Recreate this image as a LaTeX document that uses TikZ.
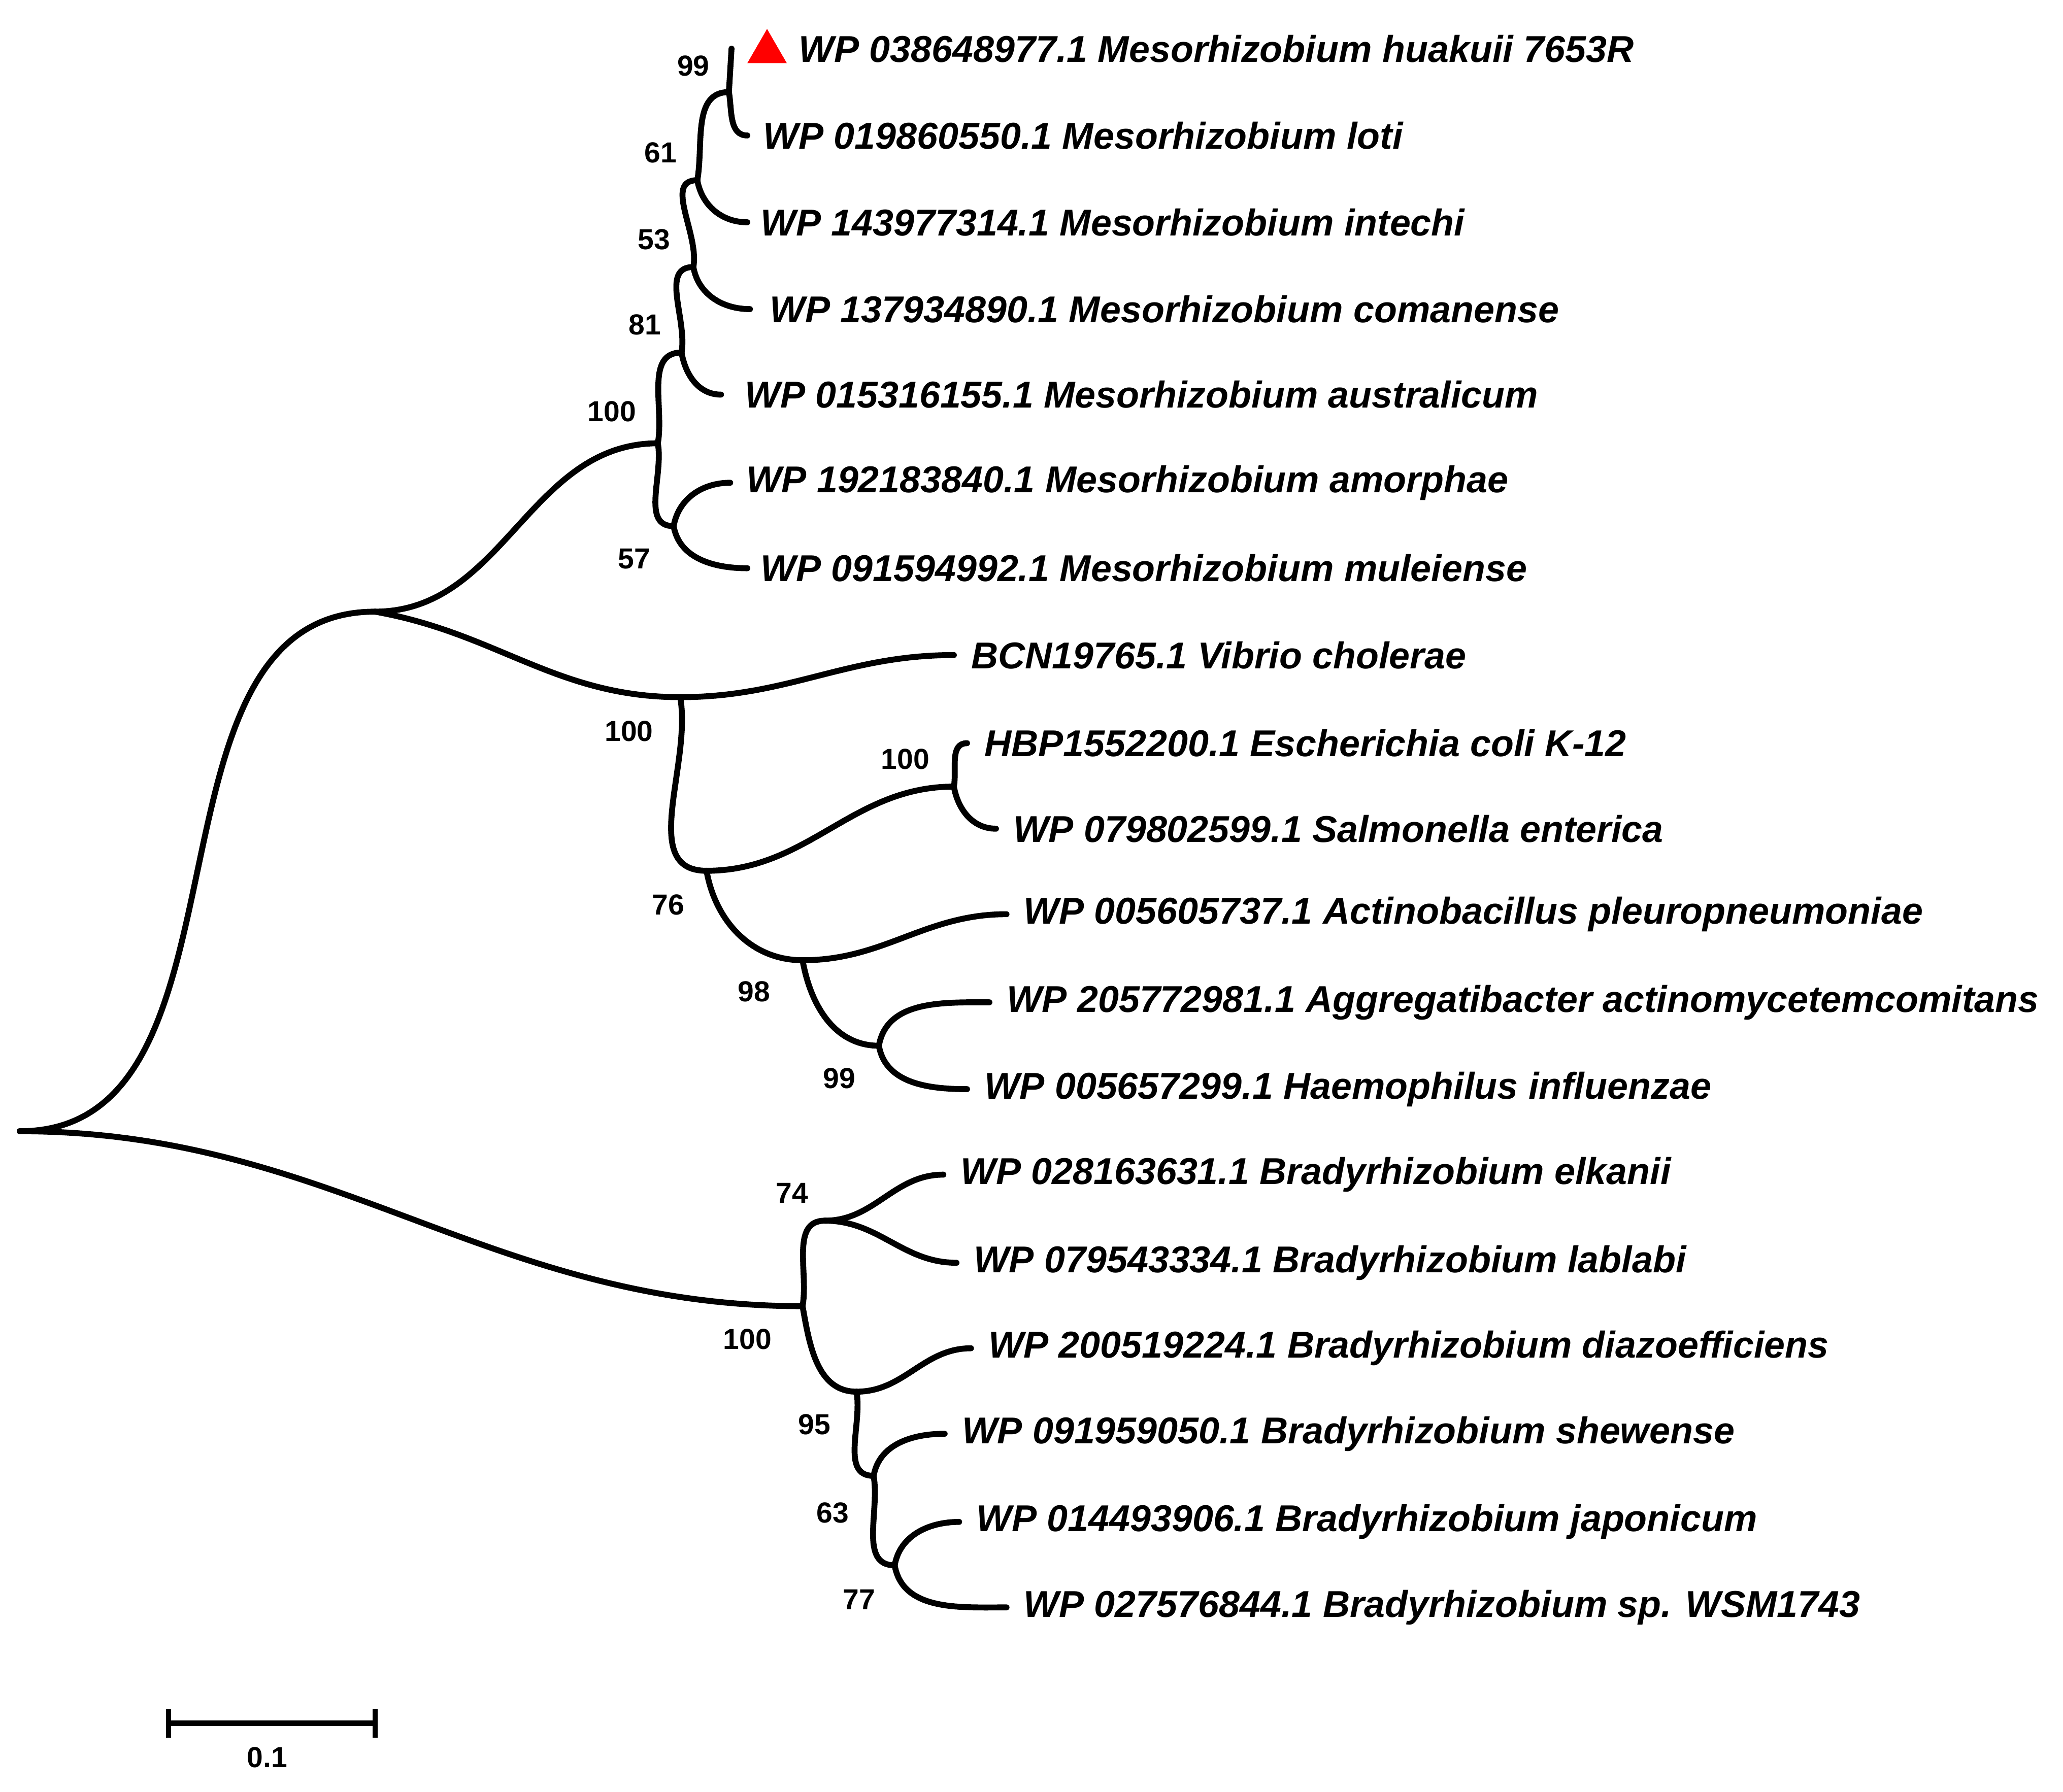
\documentclass[tikz,border=0pt]{standalone}
\usepackage{fontspec}
\setmainfont{Liberation Sans}
\begin{document}
\begin{tikzpicture}[x=1pt,y=-1pt,
  br/.style={line width=4.5pt,line cap=round},
  bs/.style={out=0,in=180},
  bu/.style={out=80,in=180},
  bd/.style={out=-80,in=180},
  lab/.style={anchor=west,inner sep=0pt,font=\fontsize{28.4}{32}\selectfont\bfseries\itshape},
  num/.style={inner sep=0pt,font=\fontsize{22}{26}\selectfont\bfseries}]
\useasboundingbox[fill=white] (0,0) rectangle (1568,1362);
% internal nodes
\coordinate (R) at (15,860);
\coordinate (A) at (285,465);
\coordinate (M) at (500,337);
\coordinate (M1) at (518,268);
\coordinate (M2) at (527,203);
\coordinate (M3) at (530,137);
\coordinate (M4) at (554,70);
\coordinate (M5) at (512,400);
\coordinate (G) at (517,530);
\coordinate (G1) at (537,662);
\coordinate (E) at (725,598);
\coordinate (G2) at (610,730);
\coordinate (G3) at (668,795);
\coordinate (B) at (610,993);
\coordinate (B1) at (627,928);
\coordinate (B2) at (651,1058);
\coordinate (B3) at (664,1122);
\coordinate (B4) at (680,1190);
% tips
\coordinate (t1) at (556,37);
\coordinate (t2) at (568,103);
\coordinate (t3) at (568,169);
\coordinate (t4) at (570,235);
\coordinate (t5) at (548,300);
\coordinate (t6) at (555,367);
\coordinate (t7) at (568,432);
\coordinate (t8) at (725,498);
\coordinate (t9) at (735,565);
\coordinate (t10) at (757,630);
\coordinate (t11) at (765,695);
\coordinate (t12) at (752,762);
\coordinate (t13) at (735,828);
\coordinate (t14) at (717,893);
\coordinate (t15) at (727,960);
\coordinate (t16) at (738,1025);
\coordinate (t17) at (718,1090);
\coordinate (t18) at (729,1157);
\coordinate (t19) at (765,1222);
% branches
\draw[br] (R) to[bs] (A);
\draw[br] (R) to[bs] (B);
\draw[br] (A) to[bs] (M);
\draw[br] (A) to[out=-10,in=180] (G) to[out=0,in=180] (t8);
\draw[br] (M) to[bu] (M1);
\draw[br] (M) to[bd] (M5);
\draw[br] (M1) to[bu] (M2);
\draw[br] (M1) to[bd] (t5);
\draw[br] (M2) to[bu] (M3);
\draw[br] (M2) to[bd] (t4);
\draw[br] (M3) to[bu] (M4);
\draw[br] (M3) to[bd] (t3);
\draw[br] (M4) -- (t1);
\draw[br] (M4) to[bd] (t2);
\draw[br] (M5) to[bu] (t6);
\draw[br] (M5) to[bd] (t7);
\draw[br] (G) to[bd] (G1);
\draw[br] (G1) to[bs] (E);
\draw[br] (G1) to[bd] (G2);
\draw[br] (E) to[bu] (t9);
\draw[br] (E) to[bd] (t10);
\draw[br] (G2) to[bs] (t11);
\draw[br] (G2) to[bd] (G3);
\draw[br] (G3) to[bu] (t12);
\draw[br] (G3) to[bd] (t13);
\draw[br] (B) to[bu] (B1);
\draw[br] (B) to[bd] (B2);
\draw[br] (B1) to[bs] (t14);
\draw[br] (B1) to[bs] (t15);
\draw[br] (B2) to[bs] (t16);
\draw[br] (B2) to[bd] (B3);
\draw[br] (B3) to[bu] (t17);
\draw[br] (B3) to[bd] (B4);
\draw[br] (B4) to[bu] (t18);
\draw[br] (B4) to[bd] (t19);
% marker
\fill[red] (568,48) -- (598,48) -- (583,22) -- cycle;
% leaf labels
\node[lab] (l1) at (607,37) {WP 038648977.1 Mesorhizobium huakuii 7653R};
\node[lab] (l2) at (580,103) {WP 019860550.1 Mesorhizobium loti};
\node[lab] (l3) at (578,169) {WP 143977314.1 Mesorhizobium intechi};
\node[lab] (l4) at (585,235) {WP 137934890.1 Mesorhizobium comanense};
\node[lab] (l5) at (566,300) {WP 015316155.1 Mesorhizobium australicum};
\node[lab] (l6) at (567,367) {WP 192183840.1 Mesorhizobium amorphae};
\node[lab] (l7) at (578,432) {WP 091594992.1 Mesorhizobium muleiense};
\node[lab] (l8) at (738,498) {BCN19765.1 Vibrio cholerae};
\node[lab] (l9) at (748,565) {HBP1552200.1 Escherichia coli K-12};
\node[lab] (l10) at (770,630) {WP 079802599.1 Salmonella enterica};
\node[lab] (l11) at (778,695) {WP 005605737.1 Actinobacillus pleuropneumoniae};
\node[lab] (l12) at (765,762) {WP 205772981.1 Aggregatibacter actinomycetemcomitans};
\node[lab] (l13) at (748,828) {WP 005657299.1 Haemophilus influenzae};
\node[lab] (l14) at (730,893) {WP 028163631.1 Bradyrhizobium elkanii};
\node[lab] (l15) at (740,960) {WP 079543334.1 Bradyrhizobium lablabi};
\node[lab] (l16) at (751,1025) {WP 200519224.1 Bradyrhizobium diazoefficiens};
\node[lab] (l17) at (731,1090) {WP 091959050.1 Bradyrhizobium shewense};
\node[lab] (l18) at (742,1157) {WP 014493906.1 Bradyrhizobium japonicum};
\node[lab] (l19) at (778,1222) {WP 027576844.1 Bradyrhizobium sp. WSM1743};
% bootstrap values
\node[num] (n1) at (527,50) {99};
\node[num] (n2) at (502,116) {61};
\node[num] (n3) at (497,182) {53};
\node[num] (n4) at (490,247) {81};
\node[num] (n5) at (465,313) {100};
\node[num] (n6) at (482,425) {57};
\node[num] (n7) at (478,556) {100};
\node[num] (n8) at (688,577) {100};
\node[num] (n9) at (508,688) {76};
\node[num] (n10) at (573,754) {98};
\node[num] (n11) at (638,820) {99};
\node[num] (n12) at (602,907) {74};
\node[num] (n13) at (568,1018) {100};
\node[num] (n14) at (619,1083) {95};
\node[num] (n15) at (633,1150) {63};
\node[num] (n16) at (653,1216) {77};
% scale bar
\coordinate (s1) at (128,1310);
\coordinate (s2) at (285,1310);
\draw[line width=4pt] (s1) -- (s2);
\draw[line width=4pt] ([yshift=-11pt]s1) -- ([yshift=11pt]s1);
\draw[line width=4pt] ([yshift=-11pt]s2) -- ([yshift=11pt]s2);
\node[num] (sc) at (203,1336) {0.1};
\end{tikzpicture}
\end{document}
